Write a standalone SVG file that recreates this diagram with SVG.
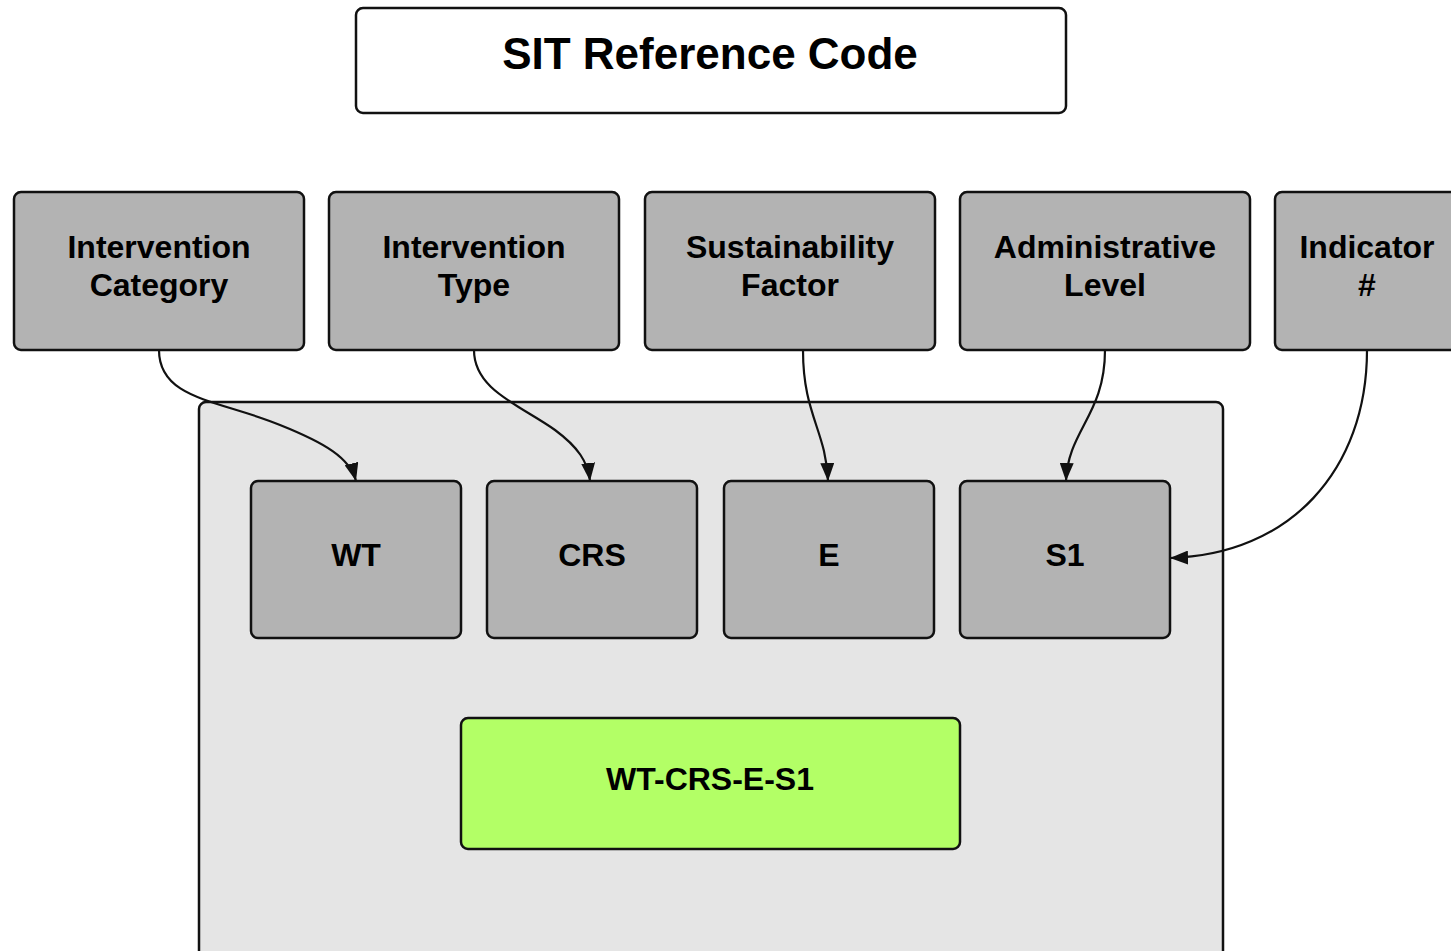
<svg xmlns="http://www.w3.org/2000/svg" width="1451" height="951" viewBox="0 0 1451 951">
<defs>
<style>
.box{fill:#b3b3b3;stroke:#111;stroke-width:2.5}
.t{font-family:"Liberation Sans",Arial,sans-serif;font-weight:bold;font-size:32px;fill:#000;text-anchor:middle}
.c{fill:none;stroke:#111;stroke-width:2.2}
</style>
<marker id="arr" viewBox="0 0 18 14" refX="18" refY="7" markerWidth="18" markerHeight="14" markerUnits="userSpaceOnUse" orient="auto">
<path d="M0,0 L18,7 L0,14 z" fill="#111"/>
</marker>
</defs>
<rect width="1451" height="951" fill="#fff"/>
<g id="title">
<rect x="356" y="8" width="710" height="105" rx="7" fill="#fff" stroke="#111" stroke-width="2.5"/>
<text x="710" y="69" class="t" style="font-size:44px">SIT Reference Code</text>
</g>
<g id="container">
<rect x="199" y="402" width="1024" height="570" rx="7" fill="#e5e5e5" stroke="#111" stroke-width="2.5"/>
</g>
<g id="n-cat"><rect class="box" x="14" y="192" width="290" height="158" rx="7"/><text class="t" x="159" y="258">Intervention</text><text class="t" x="159" y="296">Category</text></g>
<g id="n-type"><rect class="box" x="329" y="192" width="290" height="158" rx="7"/><text class="t" x="474" y="258">Intervention</text><text class="t" x="474" y="296">Type</text></g>
<g id="n-sf"><rect class="box" x="645" y="192" width="290" height="158" rx="7"/><text class="t" x="790" y="258">Sustainability</text><text class="t" x="790" y="296">Factor</text></g>
<g id="n-al"><rect class="box" x="960" y="192" width="290" height="158" rx="7"/><text class="t" x="1105" y="258">Administrative</text><text class="t" x="1105" y="296">Level</text></g>
<g id="n-ind"><rect class="box" x="1275" y="192" width="290" height="158" rx="7"/><text class="t" x="1367" y="258">Indicator</text><text class="t" x="1367" y="296">#</text></g>
<g id="n-wt"><rect class="box" x="251" y="481" width="210" height="157" rx="7"/><text class="t" x="356" y="566">WT</text></g>
<g id="n-crs"><rect class="box" x="487" y="481" width="210" height="157" rx="7"/><text class="t" x="592" y="566">CRS</text></g>
<g id="n-e"><rect class="box" x="724" y="481" width="210" height="157" rx="7"/><text class="t" x="829" y="566">E</text></g>
<g id="n-s1"><rect class="box" x="960" y="481" width="210" height="157" rx="7"/><text class="t" x="1065" y="566">S1</text></g>
<g id="n-code"><rect x="461" y="718" width="499" height="131" rx="7" fill="#b3ff66" stroke="#111" stroke-width="2.5"/><text class="t" x="710" y="790">WT-CRS-E-S1</text></g>
<g id="connectors">
<path class="c" marker-end="url(#arr)" d="M159,350 C159,400 220,400 280,425 C325,443 350,458 356,481"/>
<path class="c" marker-end="url(#arr)" d="M474,350 C474,390 520,405 555,430 C578,447 588,462 590,481"/>
<path class="c" marker-end="url(#arr)" d="M803,350 C803,415 826,430 828,481"/>
<path class="c" marker-end="url(#arr)" d="M1105,350 C1105,415 1068,430 1066,481"/>
<path class="c" marker-end="url(#arr)" d="M1367,350 C1367,470 1290,555 1170,558"/>
</g>
</svg>
